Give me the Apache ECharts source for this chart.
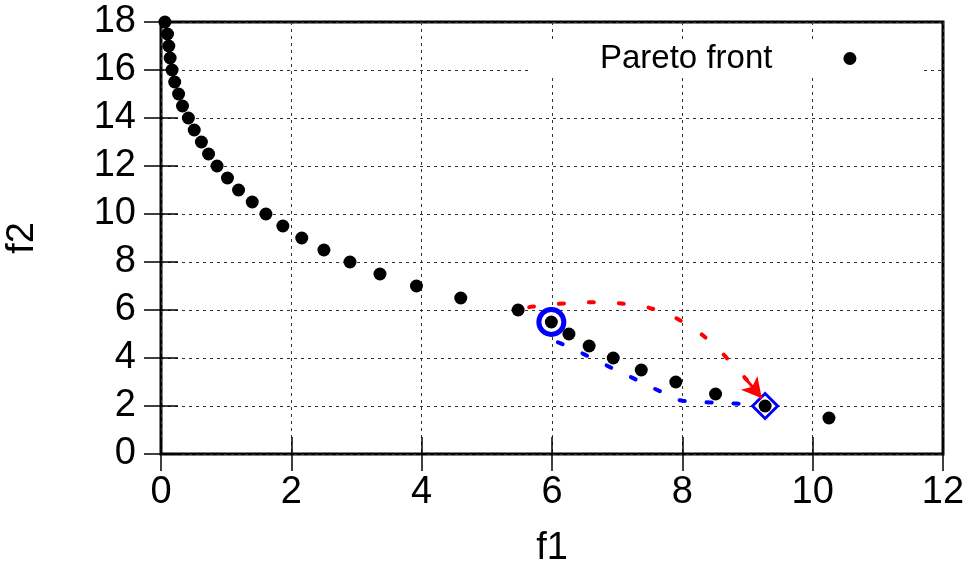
<!DOCTYPE html>
<html>
<head>
<meta charset="utf-8">
<script src="https://cdn.jsdelivr.net/npm/echarts@6/dist/echarts.min.js"></script>
<style>html,body{margin:0;padding:0;background:#fff;}#c{width:974px;height:571px;}</style>
</head>
<body>
<div id="c"></div>
<script>
// Pareto front points
const paretoF1 = [0.06, 0.10, 0.12, 0.14, 0.17, 0.21, 0.27, 0.33, 0.42, 0.51, 0.62, 0.73, 0.86, 1.02, 1.19, 1.40, 1.61, 1.87, 2.16, 2.50, 2.90, 3.36, 3.92, 4.60, 5.48, 5.99, 6.26, 6.57, 6.94, 7.37, 7.90, 8.51, 9.27, 10.25];
const paretoF2 = [18, 17.5, 17, 16.5, 16, 15.5, 15, 14.5, 14, 13.5, 13, 12.5, 12, 11.5, 11, 10.5, 10, 9.5, 9, 8.5, 8, 7.5, 7, 6.5, 6, 5.5, 5, 4.5, 4, 3.5, 3, 2.5, 2, 1.5];
// annotation paths
const redPathF1 = [5.65, 6.21, 6.67, 7.12, 7.57, 7.99, 8.37, 8.70, 8.99];
const redPathF2 = [6.12, 6.28, 6.32, 6.25, 6.03, 5.53, 4.82, 3.95, 3.08];
const redArrowTip = [9.22, 2.32];
const bluePathF1 = [6.09, 6.14, 6.52, 6.89, 7.26, 7.63, 8.01, 8.42, 8.83, 9.05];
const bluePathF2 = [4.65, 4.60, 4.12, 3.62, 3.14, 2.65, 2.22, 2.15, 2.10, 2.06];
const circleMark = [5.99, 5.5];
const diamondMark = [9.27, 2.0];
const legendLabel = 'Pareto front';
const xName = 'f1', yName = 'f2';

const zip = (a, b) => a.map((v, i) => [v, b[i]]);
const FONT = 'Liberation Sans, Arial, sans-serif';

const chart = echarts.init(document.getElementById('c'), null, {renderer: 'canvas'});
const gridLine = {show: true, lineStyle: {color: '#333', width: 1, type: [3, 4]}};
const tick = {show: true, inside: true, length: 17, lineStyle: {color: '#000', width: 1.5}};
chart.setOption({
  animation: false,
  backgroundColor: '#fff',
  grid: {left: 161, right: 31, top: 22, bottom: 117, show: true, borderColor: '#000', borderWidth: 3,
         backgroundColor: 'transparent', containLabel: false, outerBoundsMode: 'none'},
  legend: {
    data: [legendLabel], left: 530, top: 40, align: 'right', icon: 'circle',
    itemWidth: 13, itemHeight: 13, backgroundColor: '#fff', padding: [2, 65, 2, 70],
    textStyle: {fontSize: 33, color: '#000', fontFamily: FONT, lineHeight: 30, padding: [0, 66, 0, 0]}
  },
  xAxis: [
    {type: 'value', min: 0, max: 12, interval: 2, position: 'bottom',
     name: xName, nameLocation: 'middle', nameGap: 76,
     nameTextStyle: {fontSize: 38, color: '#000', fontFamily: FONT},
     axisLine: {show: false}, axisTick: tick, splitLine: gridLine,
     axisLabel: {fontSize: 38, color: '#000', fontFamily: FONT, margin: 20}},
    {type: 'value', min: 0, max: 12, interval: 2, position: 'top',
     axisLine: {show: false}, axisTick: tick, splitLine: {show: false}, axisLabel: {show: false}}
  ],
  yAxis: [
    {type: 'value', min: 0, max: 18, interval: 2, position: 'left',
     name: yName, nameLocation: 'middle', nameGap: 119, nameRotate: 90,
     nameTextStyle: {fontSize: 38, color: '#000', fontFamily: FONT},
     axisLine: {show: false}, axisTick: tick, splitLine: gridLine,
     axisLabel: {fontSize: 38, color: '#000', fontFamily: FONT, margin: 25}},
    {type: 'value', min: 0, max: 18, interval: 2, position: 'right',
     axisLine: {show: false}, axisTick: tick, splitLine: {show: false}, axisLabel: {show: false}}
  ],
  series: [
    {type: 'line', data: zip(redPathF1, redPathF2), smooth: 0.5, symbol: 'none', z: 2,
     lineStyle: {color: '#ff0000', width: 4, type: [5, 25], cap: 'round'},
     markLine: {silent: true, symbol: ['none', 'arrow'], symbolSize: [16, 20],
       label: {show: false},
       lineStyle: {color: '#ff0000', width: 3, type: 'solid'},
       data: [[{coord: redPathF1.slice(-1).concat(redPathF2.slice(-1))}, {coord: redArrowTip}]]}},
    {type: 'line', data: zip(bluePathF1, bluePathF2), smooth: 0.5, symbol: 'none', z: 2,
     lineStyle: {color: '#0000ff', width: 4, type: [5, 22], cap: 'round'}},
    {type: 'scatter', data: [circleMark], symbol: 'circle', symbolSize: 25, z: 3,
     itemStyle: {color: '#fff', borderColor: '#0000ff', borderWidth: 5, opacity: 1}},
    {type: 'scatter', data: [diamondMark], symbol: 'diamond', symbolSize: 25, z: 3,
     itemStyle: {color: '#fff', borderColor: '#0000ff', borderWidth: 3, opacity: 1}},
    {type: 'scatter', name: legendLabel, data: zip(paretoF1, paretoF2), symbol: 'circle', symbolSize: 13, z: 5,
     itemStyle: {color: '#000', opacity: 1}}
  ]
});
</script>
</body>
</html>
